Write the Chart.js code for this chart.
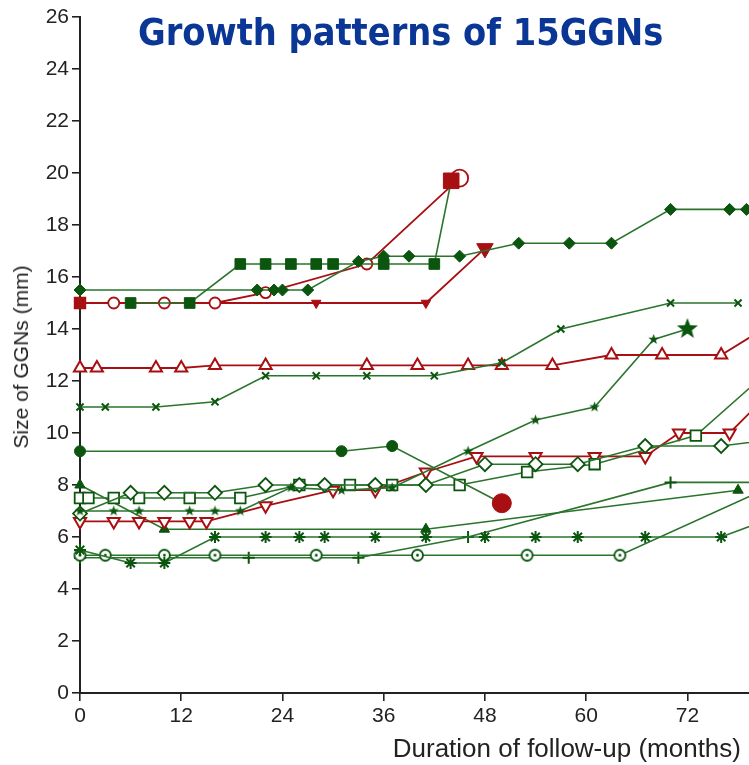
<!DOCTYPE html>
<html>
<head>
<meta charset="utf-8">
<script src="https://cdn.jsdelivr.net/npm/chart.js@4.4.1/dist/chart.umd.min.js"></script>
<style>
  html, body { margin: 0; padding: 0; background: #fff; overflow: hidden; }
  #wrap { position: relative; width: 749px; height: 765px; overflow: hidden; }
  #chart { position: absolute; left: 0; top: 0; }
  #title {
    position: absolute; left: 138px; top: 10px; white-space: nowrap;
    font-family: "DejaVu Sans Condensed", "DejaVu Sans", sans-serif;
    font-weight: bold; font-size: 37.5px; color: #0a3696;
  }
  .axis-title {
    position: absolute; white-space: nowrap; color: #222;
    font-family: "Liberation Sans Narrow", "Liberation Sans", Arial, sans-serif;
  }
  #xTitle { right: 8px; top: 733px; font-size: 26px; }
  #yTitle { left: 21px; top: 357px; font-size: 21px; transform: translate(-50%, -50%) rotate(-90deg); }
</style>
</head>
<body>
<div id="wrap">
  <canvas id="chart" width="749" height="765" style="width:749px;height:765px"></canvas>
  <div id="title">Growth patterns of 15GGNs</div>
  <div id="yTitle" class="axis-title">Size of GGNs (mm)</div>
  <div id="xTitle" class="axis-title">Duration of follow-up (months)</div>
</div>
<script>
// [month, size in mm] per nodule
const solidDiamond = [[0,15.5],[21,15.5],[23,15.5],[24,15.5],[27,15.5],[33,16.6],[36,16.8],[39,16.8],[45,16.8],[52,17.3],[58,17.3],[63,17.3],[70,18.6],[77,18.6],[79,18.6]];
const solidSquare = [[6,15],[13,15],[19,16.5],[22,16.5],[25,16.5],[28,16.5],[30,16.5],[36,16.5],[42,16.5],[44,19.7]];
const openCircle = [[0,15],[4,15],[10,15],[16,15],[22,15.4],[34,16.5],[45,19.8]];
const solidDown = [[0,15],[16,15],[28,15],[41,15],[48,17.1]];
const crossX = [[0,11],[3,11],[9,11],[16,11.2],[22,12.2],[28,12.2],[34,12.2],[42,12.2],[50,12.7],[57,14],[70,15],[78,15]];
const openUp = [[0,12.5],[2,12.5],[9,12.5],[12,12.5],[16,12.6],[22,12.6],[34,12.6],[40,12.6],[46,12.6],[50,12.6],[56,12.6],[63,13],[69,13],[76,13],[81,14.0]];
const solidCircle = [[0,9.3],[31,9.3],[37,9.5],[50,7.3]];
const smallStar = [[0,7],[4,7],[7,7],[13,7],[16,7],[19,7],[25,7.9],[31,7.8],[37,7.9],[46,9.3],[54,10.5],[61,11],[68,13.6],[72,14]];
const openDiamond = [[0,6.9],[6,7.7],[10,7.7],[16,7.7],[22,8],[26,8],[29,8],[35,8],[41,8],[48,8.8],[54,8.8],[59,8.8],[67,9.5],[76,9.5],[81,9.7]];
const openSquare = [[0,7.5],[1,7.5],[4,7.5],[7,7.5],[13,7.5],[19,7.5],[26,8],[32,8],[37,8],[45,8],[53,8.5],[61,8.8],[73,9.9],[81,12.2]];
const openDown = [[0,6.6],[4,6.6],[7,6.6],[10,6.6],[13,6.6],[15,6.6],[22,7.2],[30,7.8],[35,7.8],[41,8.5],[47,9.1],[54,9.1],[61,9.1],[67,9.1],[71,10],[77,10],[81,11.3]];
const solidUp = [[0,8],[10,6.3],[41,6.3],[78,7.8]];
const asterisk = [[0,5.5],[6,5],[10,5],[16,6],[22,6],[26,6],[29,6],[35,6],[41,6],[48,6],[54,6],[59,6],[67,6],[76,6],[81,6.6]];
const dotCircle = [[0,5.3],[3,5.3],[10,5.3],[16,5.3],[28,5.3],[40,5.3],[53,5.3],[64,5.3],[81,7.8]];
const plusMark = [[0,5.2],[20,5.2],[33,5.2],[46,6],[70,8.1],[81,8.1]];

const monthTicks = [0, 12, 24, 36, 48, 60, 72];
const sizeTicks = [0, 2, 4, 6, 8, 10, 12, 14, 16, 18, 20, 22, 24, 26];

const GREEN = '#0b550e';
const GREEN_LINE = '#2a742c';
const RED = '#a80f12';

// little canvases for markers Chart.js has no style for
function starImg(r, color) {
  const c = document.createElement('canvas');
  c.width = c.height = Math.ceil(2 * r + 2);
  const g = c.getContext('2d');
  g.translate(c.width / 2, c.height / 2);
  g.beginPath();
  for (let i = 0; i < 10; i++) {
    const rr = i % 2 ? r * 0.42 : r;
    const a = -Math.PI / 2 + i * Math.PI / 5;
    g.lineTo(Math.cos(a) * rr, Math.sin(a) * rr);
  }
  g.closePath();
  g.fillStyle = color;
  g.fill();
  return c;
}
function dotCircleImg(r, color) {
  const c = document.createElement('canvas');
  c.width = c.height = Math.ceil(2 * r + 4);
  const g = c.getContext('2d');
  const m = c.width / 2;
  g.beginPath(); g.arc(m, m, r, 0, Math.PI * 2);
  g.fillStyle = '#fff'; g.fill();
  g.lineWidth = 1.8; g.strokeStyle = color; g.stroke();
  g.beginPath(); g.arc(m, m, 1.4, 0, Math.PI * 2);
  g.fillStyle = color; g.fill();
  return c;
}

const smallStarImg = starImg(5.5, GREEN);
const bigStarImg = starImg(11, GREEN);
const dotImg = dotCircleImg(5.5, GREEN);

function toXY(arr) { return arr.map(p => ({ x: p[0], y: p[1] })); }
function lastBig(arr, small, big) { return arr.map((p, i) => i === arr.length - 1 ? big : small); }

function series(arr, o) {
  return Object.assign({
    data: toXY(arr),
    borderWidth: 1.6,
    tension: 0,
    clip: false,
    pointBorderWidth: 1.8,
    pointHoverRadius: 0
  }, o);
}

const datasets = [
  series(solidDiamond, { borderColor: GREEN_LINE, pointStyle: 'rectRot', pointRadius: 6, pointBackgroundColor: GREEN, pointBorderColor: GREEN, pointBorderWidth: 1 }),
  series(solidSquare, { borderColor: GREEN_LINE, pointStyle: 'rect', pointRadius: lastBig(solidSquare, 7.5, 11),
    pointBackgroundColor: lastBig(solidSquare, GREEN, RED), pointBorderColor: lastBig(solidSquare, GREEN, RED), pointBorderWidth: 1 }),
  series(openCircle, { borderColor: RED, borderWidth: 1.8,
    pointStyle: openCircle.map((p, i) => i === 0 ? 'rect' : 'circle'),
    pointRadius: openCircle.map((p, i) => i === 0 ? 7.5 : (i === openCircle.length - 1 ? 8.5 : 5.5)),
    pointBackgroundColor: openCircle.map((p, i) => i === 0 ? RED : '#fff'), pointBorderColor: RED }),
  series(solidDown, { borderColor: RED, borderWidth: 1.8, pointStyle: 'triangle', pointRotation: 180,
    pointRadius: lastBig(solidDown, 5.5, 9.5), pointBackgroundColor: RED, pointBorderColor: RED, pointBorderWidth: 1 }),
  series(crossX, { borderColor: GREEN_LINE, pointStyle: 'crossRot', pointRadius: 5, pointBorderColor: GREEN, pointBorderWidth: 2 }),
  series(openUp, { borderColor: RED, borderWidth: 1.8, pointStyle: 'triangle', pointRadius: 7,
    pointBackgroundColor: '#fff', pointBorderColor: RED, pointBorderWidth: 2 }),
  series(solidCircle, { borderColor: GREEN_LINE, pointStyle: 'circle', pointRadius: lastBig(solidCircle, 5.5, 9.5),
    pointBackgroundColor: lastBig(solidCircle, GREEN, RED), pointBorderColor: lastBig(solidCircle, GREEN, RED), pointBorderWidth: 1 }),
  series(smallStar, { borderColor: GREEN_LINE, pointStyle: lastBig(smallStar, smallStarImg, bigStarImg) }),
  series(openDiamond, { borderColor: GREEN_LINE, pointStyle: 'rectRot', pointRadius: 7,
    pointBackgroundColor: '#fff', pointBorderColor: GREEN, pointBorderWidth: 1.8 }),
  series(openSquare, { borderColor: GREEN_LINE, pointStyle: 'rect', pointRadius: 7.5,
    pointBackgroundColor: '#fff', pointBorderColor: GREEN, pointBorderWidth: 1.8 }),
  series(openDown, { borderColor: RED, borderWidth: 1.8, pointStyle: 'triangle', pointRotation: 180, pointRadius: 7,
    pointBackgroundColor: '#fff', pointBorderColor: RED, pointBorderWidth: 2 }),
  series(solidUp, { borderColor: GREEN_LINE, pointStyle: 'triangle', pointRadius: 6,
    pointBackgroundColor: GREEN, pointBorderColor: GREEN, pointBorderWidth: 1 }),
  series(asterisk, { borderColor: GREEN_LINE, pointStyle: 'star', pointRadius: 6, pointBorderColor: GREEN, pointBorderWidth: 2 }),
  series(dotCircle, { borderColor: GREEN_LINE, pointStyle: dotImg }),
  series(plusMark, { borderColor: GREEN_LINE, pointStyle: 'cross', pointRadius: 6, pointBorderColor: GREEN, pointBorderWidth: 2 })
];

const tickFont = { family: "'Liberation Sans Narrow', 'Liberation Sans', Arial, sans-serif", size: 21 };

new Chart(document.getElementById('chart'), {
  type: 'line',
  data: { datasets },
  options: {
    responsive: false,
    animation: false,
    events: [],
    layout: { autoPadding: false, padding: { top: 17, left: 0, right: 0, bottom: 0 } },
    plugins: { legend: { display: false }, tooltip: { enabled: false }, title: { display: false } },
    scales: {
      x: {
        type: 'linear', min: 0, max: 79.3,
        afterFit: s => { s.height = 72; },
        afterBuildTicks: s => { s.ticks = monthTicks.map(v => ({ value: v })); },
        border: { color: '#222', width: 2 },
        grid: { drawOnChartArea: false, drawTicks: true, tickLength: 8, color: '#222', lineWidth: 1.6 },
        ticks: { color: '#222', font: tickFont, padding: 3, maxRotation: 0 }
      },
      y: {
        min: 0, max: 26,
        afterFit: s => { s.width = 80; },
        afterBuildTicks: s => { s.ticks = sizeTicks.map(v => ({ value: v })); },
        border: { color: '#222', width: 2 },
        grid: { drawOnChartArea: false, drawTicks: true, tickLength: 8, color: '#222', lineWidth: 1.6 },
        ticks: { color: '#222', font: tickFont, padding: 3 }
      }
    }
  }
});
</script>
</body>
</html>
